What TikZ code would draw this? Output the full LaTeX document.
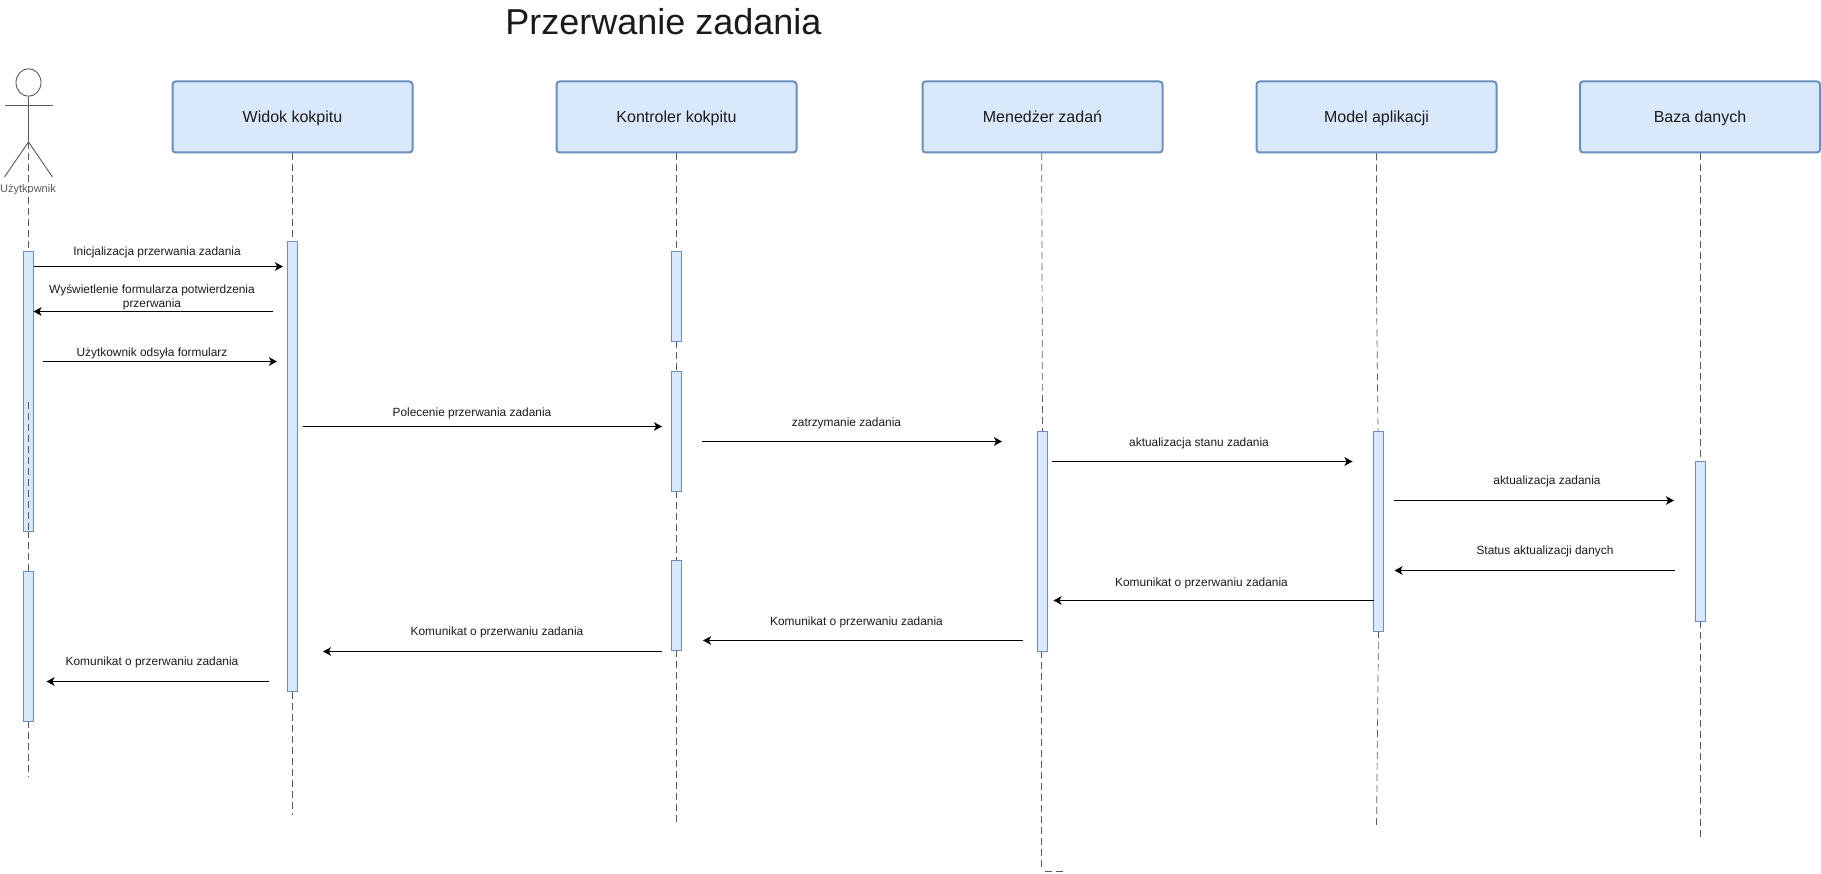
\documentclass[tikz,border=0pt]{standalone}
\usepackage{fontspec}
\setmainfont{Liberation Sans}
\usetikzlibrary{arrows.meta,shapes.geometric}
\definecolor{boxfill}{HTML}{DAE8FC}
\definecolor{boxline}{HTML}{6C8EBF}
\definecolor{lifeline}{HTML}{5A5A5A}
\definecolor{ink}{HTML}{1A1A1A}
\tikzset{
  head/.style={draw=boxline,fill=boxfill,line width=2pt,rounded corners=3pt,minimum width=240pt,minimum height=71pt,inner sep=0pt,text height=14pt,text depth=3.4pt,font=\fontsize{16}{19}\selectfont,text=ink},
  lane/.style={draw=lifeline,line width=0.7pt,dash pattern=on 7pt off 4pt},
  msg/.style={draw=black,line width=1.2pt,-{Stealth[length=8pt,width=8.5pt,inset=2pt]}},
  lbl/.style={inner sep=0pt,align=center,text=ink,font=\fontsize{11.9}{14}\selectfont},
  stick/.style={draw=lifeline,line width=0.9pt}
}
\newcommand{\actbar}[5]{\node[draw=boxline,fill=boxfill,line width=1.1pt,inner sep=0pt,minimum width=#2pt,minimum height=#5pt-#4pt,anchor=north] (#1) at (#3,#4) {};}
\begin{document}
\begin{tikzpicture}[x=1pt,y=-1pt]
\useasboundingbox (0,0) rectangle (1821,874);
% title
\node[inner sep=0pt,text=ink,font=\fontsize{36}{44}\selectfont] (title) at (663.5,21.5) {Przerwanie zadania};
% heads
\node[head] (widok) at (292.5,117) {Widok kokpitu};
\node[head] (kontroler) at (676.5,117) {Kontroler kokpitu};
\node[head] (menedzer) at (1042.5,117) {Menedżer zadań};
\node[head] (model) at (1376.5,117) {Model aplikacji};
\node[head] (baza) at (1700,117) {Baza danych};
% lifeline ends and bends
\coordinate (actortop) at (28.5,142);
\coordinate (actorin) at (28.5,402);
\coordinate (actorend) at (28.5,777);
\coordinate (widokend) at (292.5,815);
\coordinate (kontrolerend) at (676.5,825);
\coordinate (menedzertop) at (1041.7,153);
\coordinate (menedzerend) at (1041.5,868);
\coordinate (menedzerstub) at (1045,871);
\coordinate (menedzerstubend) at (1063,871);
\coordinate (modelend) at (1376.5,827);
\coordinate (bazaend) at (1700,838);
% lifelines under bars
\draw[lane] (actortop) -- (28.5,251);
\draw[lane] (28.5,531) -- (28.5,571);
\draw[lane] (28.5,721) -- (actorend);
\draw[lane] (widok.south) -- (292.5,241);
\draw[lane] (292.5,692) -- (widokend);
\draw[lane] (kontroler.south) -- (676.5,251);
\draw[lane] (676.5,341) -- (676.5,371);
\draw[lane] (676.5,491) -- (676.5,560);
\draw[lane] (676.5,650) -- (kontrolerend);
\draw[lane] (menedzertop) -- (1042.5,431);
\draw[lane] (1041.5,651) -- (menedzerend);
\draw[lane] (menedzerstub) -- (menedzerstubend);
\draw[lane] (model.south) -- (1376.5,290) -- (1378,431);
\draw[lane] (1378.5,631) -- (modelend);
\draw[lane] (baza.south) -- (1700,461);
\draw[lane] (1700,621) -- (bazaend);
% activation bars
\actbar{ua}{10}{28.5}{251}{531}
\actbar{ub}{10}{28.5}{571}{721}
\actbar{wa}{10}{292.5}{241}{691}
\actbar{ka}{10}{676.5}{251}{341}
\actbar{kb}{10}{676.5}{371}{491}
\actbar{kc}{10}{676.5}{560}{650}
\actbar{ma}{10}{1042.5}{431}{651}
\actbar{aa}{10}{1378.5}{431}{631}
\actbar{ba}{10}{1700.5}{461}{621}
\draw[lane] (actorin) -- (28.5,531);
% actor
\node[draw=lifeline,line width=0.9pt,ellipse,inner sep=0pt,minimum width=25pt,minimum height=27.5pt] (actorhead) at (28.5,82.5) {};
\draw[stick] (actorhead.south) -- (actortop);
\coordinate (armL) at (4.5,105);
\coordinate (armR) at (52.5,105);
\coordinate (legL) at (4.5,177);
\coordinate (legR) at (52.5,177);
\draw[stick] (armL) -- (armR);
\draw[stick] (legL) -- (actortop) -- (legR);
\node[inner sep=0pt,text=lifeline,font=\fontsize{11}{13}\selectfont] (actorlabel) at (28,190) {Użytkownik};
% message end points
\coordinate (m1a) at (33.5,266.5); \coordinate (m1b) at (283,266.5);
\coordinate (m2a) at (273,311.5); \coordinate (m2b) at (33.5,311.5);
\coordinate (m3a) at (42.5,361.5); \coordinate (m3b) at (277,361.5);
\coordinate (m4a) at (302.5,426.5); \coordinate (m4b) at (662,426.5);
\coordinate (m5a) at (702,441.5); \coordinate (m5b) at (1002,441.5);
\coordinate (m6a) at (1052,461.5); \coordinate (m6b) at (1352.5,461.5);
\coordinate (m7a) at (1394,500.5); \coordinate (m7b) at (1674,500.5);
\coordinate (m8a) at (1675,570.5); \coordinate (m8b) at (1394.5,570.5);
\coordinate (m9a) at (1373.5,600.5); \coordinate (m9b) at (1053.5,600.5);
\coordinate (m10a) at (1023,640.5); \coordinate (m10b) at (703,640.5);
\coordinate (m11a) at (662,651.5); \coordinate (m11b) at (323,651.5);
\coordinate (m12a) at (269,681.5); \coordinate (m12b) at (46.5,681.5);
\draw[msg] (m1a) -- (m1b);
\draw[msg] (m2a) -- (m2b);
\draw[msg] (m3a) -- (m3b);
\draw[msg] (m4a) -- (m4b);
\draw[msg] (m5a) -- (m5b);
\draw[msg] (m6a) -- (m6b);
\draw[msg] (m7a) -- (m7b);
\draw[msg] (m8a) -- (m8b);
\draw[msg] (m9a) -- (m9b);
\draw[msg] (m10a) -- (m10b);
\draw[msg] (m11a) -- (m11b);
\draw[msg] (m12a) -- (m12b);
% labels
\node[lbl] (l1) at (157,252.5) {Inicjalizacja przerwania zadania};
\node[lbl] (l2) at (152,297.5) {Wyświetlenie formularza potwierdzenia\\przerwania};
\node[lbl] (l3) at (152,353) {Użytkownik odsyła formularz};
\node[lbl] (l4) at (472,413) {Polecenie przerwania zadania};
\node[lbl] (l5) at (846.5,423) {zatrzymanie zadania};
\node[lbl] (l6) at (1199,443) {aktualizacja stanu zadania};
\node[lbl] (l7) at (1547,481.5) {aktualizacja zadania};
\node[lbl] (l8) at (1545,551.5) {Status aktualizacji danych};
\node[lbl] (l9) at (1201.5,583) {Komunikat o przerwaniu zadania};
\node[lbl] (l10) at (856.5,622) {Komunikat o przerwaniu zadania};
\node[lbl] (l11) at (497,632.5) {Komunikat o przerwaniu zadania};
\node[lbl] (l12) at (152,662.5) {Komunikat o przerwaniu zadania};
\end{tikzpicture}
\end{document}
